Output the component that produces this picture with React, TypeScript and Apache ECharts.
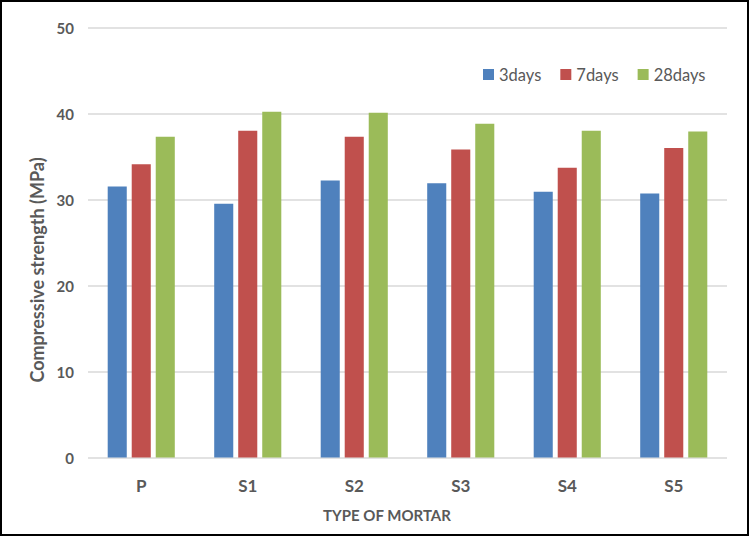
import React, { useEffect, useRef } from "react";
import * as echarts from "echarts";

const categories = ["P", "S1", "S2", "S3", "S4", "S5"];
const days3 = [31.5, 29.5, 32.2, 31.9, 30.9, 30.7];
const days7 = [34.1, 38.0, 37.3, 35.8, 33.7, 36.0];
const days28 = [37.3, 40.2, 40.1, 38.8, 38.0, 37.9];
const seriesNames = ["3days", "7days", "28days"];
const colors = ["#4f81bd", "#c0504d", "#9bbb59"];

export default function App() {
  const ref = useRef<HTMLDivElement>(null);
  useEffect(() => {
    if (!ref.current) return;
    const chart = echarts.init(ref.current, undefined, { renderer: "svg" });
    const font = "Lato";
    const data = [days3, days7, days28];
    chart.setOption({
      animation: false,
      backgroundColor: "#ffffff",
      textStyle: { fontFamily: font },
      grid: { left: 86, right: 20, top: 25.5, bottom: 76.5, containLabel: false },
      legend: {
        left: 476,
        top: 59,
        itemWidth: 11,
        itemHeight: 11,
        itemGap: 19,
        icon: "rect",
        textStyle: { fontFamily: font, fontSize: 16.5, color: "#595959" },
        data: seriesNames,
      },
      xAxis: {
        type: "category",
        data: categories,
        axisLine: { show: false },
        axisTick: { show: false },
        axisLabel: { fontFamily: font, fontSize: 17, fontWeight: "bold", color: "#595959", margin: 19 },
      },
      yAxis: {
        type: "value",
        min: 0,
        max: 50,
        interval: 10,
        axisLine: { show: false },
        axisTick: { show: false },
        axisLabel: { fontFamily: font, fontSize: 15, fontWeight: "bold", color: "#595959", margin: 14 },
        splitLine: { lineStyle: { color: "#d9d9d9", width: 1.5 } },
      },
      graphic: [
        {
          type: "text",
          x: 35,
          y: 268,
          rotation: Math.PI / 2,
          style: {
            text: "Compressive strength (MPa)",
            fontFamily: font,
            fontSize: 18,
            fontWeight: "bold",
            fill: "#595959",
            align: "center",
            verticalAlign: "middle",
          },
        },
        {
          type: "text",
          x: 385,
          y: 513,
          style: {
            text: "TYPE OF MORTAR",
            fontFamily: font,
            fontSize: 15,
            fontWeight: "bold",
            fill: "#595959",
            align: "center",
            verticalAlign: "middle",
          },
        },
      ],
      series: seriesNames.map((name, i) => ({
        name,
        type: "bar",
        data: data[i],
        barGap: "26%",
        barCategoryGap: "37%",
        itemStyle: { color: colors[i] },
      })),
    });
    return () => chart.dispose();
  }, []);
  return (
    <div
      ref={ref}
      style={{
        position: "absolute",
        left: 0,
        top: 0,
        width: 749,
        height: 536,
        border: "2px solid #000",
        boxSizing: "border-box",
        background: "#fff",
      }}
    />
  );
}
